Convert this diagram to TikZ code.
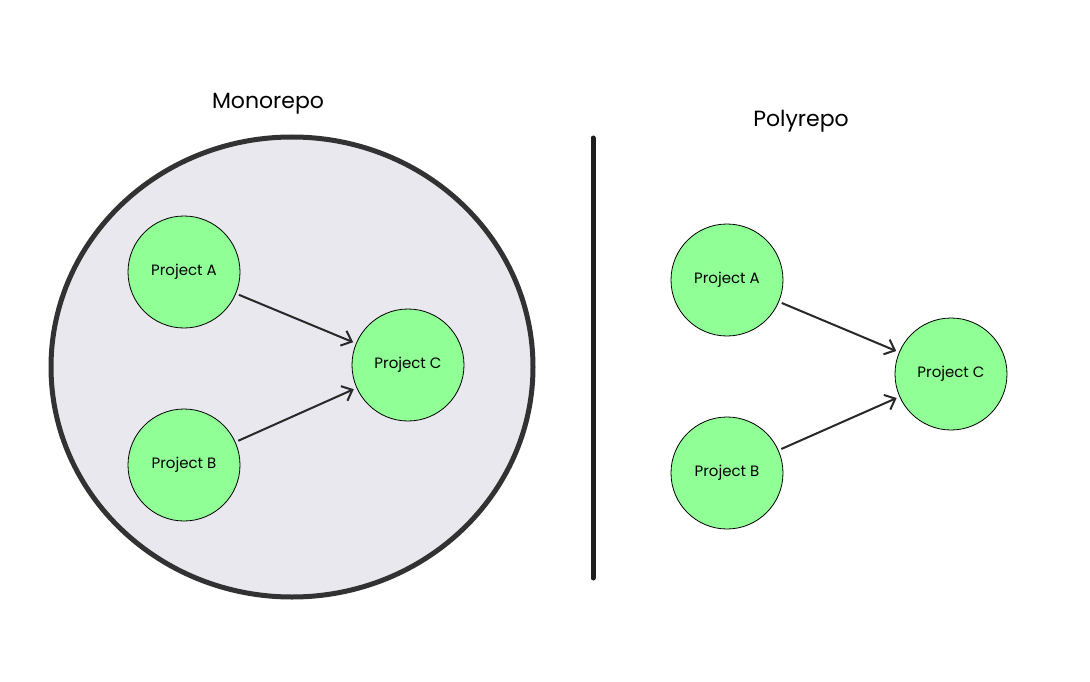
\documentclass[tikz,border=0pt]{standalone}
\usepackage{fontspec}
\setmainfont{Poppins}
\usetikzlibrary{shapes.geometric,arrows.meta}
\begin{document}
\begin{tikzpicture}[x=1pt,y=-1pt,
  proj/.style={circle,draw=black,line width=0.8pt,fill={rgb,255:red,144;green,255;blue,150},minimum size=112pt,inner sep=0pt,font=\fontsize{15}{18}\selectfont},
  dep/.style={draw={rgb,255:red,40;green,40;blue,40},line width=2pt,-{Straight Barb[length=9pt,width=16pt,line width=2pt]},shorten >=3pt,shorten <=3pt},
  title/.style={font=\fontsize{22}{26}\selectfont}]
\useasboundingbox (0,0) rectangle (1090,682);
\node[ellipse,draw={rgb,255:red,50;green,50;blue,50},line width=5pt,fill={rgb,255:red,232;green,232;blue,238},minimum width=482pt,minimum height=460pt] (mono) at (292,367) {};
\coordinate (vt) at (593,138); \coordinate (vb) at (593,578);
\draw[line width=5pt,line cap=round,draw={rgb,255:red,30;green,30;blue,30}] (vt) -- (vb);
\node[title] (t1) at (268,104) {Monorepo};
\node[title] (t2) at (801,121) {Polyrepo};
\node[proj] (a1) at (184,272) {Project A};
\node[proj] (b1) at (184,465) {Project B};
\node[proj] (c1) at (408,365) {Project C};
\node[proj] (a2) at (727,280) {Project A};
\node[proj] (b2) at (727,473) {Project B};
\node[proj] (c2) at (951,374) {Project C};
\draw[dep] (a1) -- (c1);
\draw[dep] (b1) -- (c1);
\draw[dep] (a2) -- (c2);
\draw[dep] (b2) -- (c2);
\end{tikzpicture}
\end{document}
